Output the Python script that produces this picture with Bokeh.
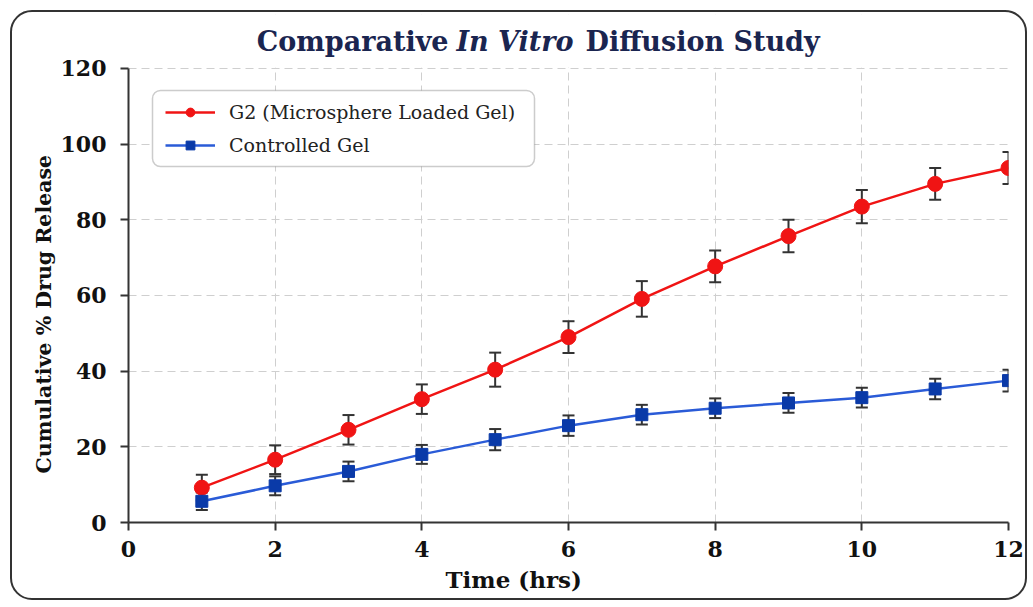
from bokeh.plotting import figure
from bokeh.models import (ColumnDataSource, Whisker, TeeHead, Legend, LegendItem,
                          BoxAnnotation, Label, FixedTicker, Range1d, Title)
from bokeh.embed import file_html
from bokeh.resources import INLINE

# ---- data ----
time_hrs = [1, 2, 3, 4, 5, 6, 7, 8, 9, 10, 11, 12]
g2_release = [9.2, 16.6, 24.5, 32.6, 40.4, 49.0, 59.1, 67.7, 75.7, 83.5, 89.5, 93.7]
g2_err = [3.4, 3.8, 3.9, 3.9, 4.5, 4.2, 4.7, 4.2, 4.3, 4.4, 4.2, 4.2]
ctrl_release = [5.6, 9.7, 13.5, 18.0, 21.9, 25.6, 28.5, 30.2, 31.6, 33.0, 35.3, 37.5]
ctrl_err = [2.3, 2.5, 2.6, 2.5, 2.8, 2.7, 2.6, 2.6, 2.6, 2.6, 2.7, 2.9]
x_ticks = [0, 2, 4, 6, 8, 10, 12]
y_ticks = [0, 20, 40, 60, 80, 100, 120]
series_names = ["G2 (Microsphere Loaded Gel)", "Controlled Gel"]
title_pieces = ["Comparative", "In Vitro", "Diffusion Study"]
x_label = "Time (hrs)"
y_label = "Cumulative % Drug Release"

FONT = "DejaVu Serif"
RED = "#f01414"
BLUE_LINE = "#2a5bd7"
BLUE_MARK = "#0a3aa8"
ERR = "#333333"
TCOL = "#1a2550"

Y_MAX = 120
Y_TOP = 134.27   # extra room above the data area for the title

p = figure(width=1017, height=590, output_backend="svg", toolbar_location=None,
           x_range=Range1d(0, 12), y_range=Range1d(0, Y_TOP),
           min_border_left=116, min_border_right=21, min_border_top=2,
           min_border_bottom=80)
p.margin = (10, 0, 0, 10)
p.styles = {"border": "2px solid #333333", "border-radius": "22px"}
p.outline_line_color = None
p.background_fill_alpha = 0
p.border_fill_alpha = 0

# grid
for g in (p.xgrid[0], p.ygrid[0]):
    g.grid_line_color = "#cfcfcf"
    g.grid_line_dash = "8 5"
    g.grid_line_width = 1

p.xaxis.ticker = FixedTicker(ticks=x_ticks)
p.yaxis.ticker = FixedTicker(ticks=y_ticks)
p.xgrid.ticker = FixedTicker(ticks=x_ticks)
p.ygrid.ticker = FixedTicker(ticks=y_ticks)
p.yaxis.bounds = (0, Y_MAX)

for ax in (p.xaxis[0], p.yaxis[0]):
    ax.axis_line_color = "#333333"
    ax.axis_line_width = 2
    ax.major_tick_line_color = "#333333"
    ax.major_tick_line_width = 2
    ax.major_tick_in = 0
    ax.major_tick_out = 8
    ax.minor_tick_line_color = None
    ax.major_label_text_font = FONT
    ax.major_label_text_font_style = "bold"
    ax.major_label_text_font_size = "22px"
    ax.major_label_text_color = "#111111"
p.yaxis.major_label_standoff = 14
p.xaxis.major_label_standoff = 10

# axis titles as side-panel titles (allow an offset along the axis)
p.add_layout(Title(text=x_label, align="left", offset=317, standoff=8,
                   text_font=FONT, text_font_style="bold", text_font_size="23px",
                   text_color="#111111"), "below")
p.add_layout(Title(text=y_label, align="left", offset=49, standoff=4,
                   text_font=FONT, text_font_style="bold", text_font_size="20.5px",
                   text_color="#111111"), "left")

# hide vertical grid lines above the data area (title zone)
p.add_layout(BoxAnnotation(left=-5, right=20, bottom=Y_MAX + 0.25, top=Y_TOP + 20,
                           fill_color="white", fill_alpha=1, line_alpha=0,
                           level="underlay"))

# legend box (rounded) drawn under the legend
p.add_layout(BoxAnnotation(left=138, right=520, top=76, bottom=152,
                           left_units="canvas", right_units="canvas",
                           top_units="canvas", bottom_units="canvas",
                           fill_color="white", fill_alpha=1,
                           line_color="#555555", line_width=1.5,
                           border_radius=8, level="underlay"))

src_g2 = ColumnDataSource(dict(t=time_hrs, y=g2_release,
                               lo=[v - e for v, e in zip(g2_release, g2_err)],
                               hi=[v + e for v, e in zip(g2_release, g2_err)]))
src_c = ColumnDataSource(dict(t=time_hrs, y=ctrl_release,
                              lo=[v - e for v, e in zip(ctrl_release, ctrl_err)],
                              hi=[v + e for v, e in zip(ctrl_release, ctrl_err)]))

for src in (src_g2, src_c):
    p.add_layout(Whisker(base="t", upper="hi", lower="lo", source=src,
                         line_color=ERR, line_width=2,
                         upper_head=TeeHead(size=12, line_color=ERR, line_width=2),
                         lower_head=TeeHead(size=12, line_color=ERR, line_width=2)))

l1 = p.line("t", "y", source=src_g2, line_color=RED, line_width=2.5)
m1 = p.scatter("t", "y", source=src_g2, marker="circle", size=15,
               fill_color=RED, line_color=RED)
l2 = p.line("t", "y", source=src_c, line_color=BLUE_LINE, line_width=2.5)
m2 = p.scatter("t", "y", source=src_c, marker="square", size=12,
               fill_color=BLUE_MARK, line_color=BLUE_MARK)

legend = Legend(items=[LegendItem(label=series_names[0], renderers=[l1, m1]),
                       LegendItem(label=series_names[1], renderers=[l2, m2])],
                location=(27, 356), margin=0, padding=10,
                glyph_width=50, glyph_height=22, label_height=22,
                spacing=11, label_standoff=14,
                label_text_font=FONT, label_text_font_size="19px",
                label_text_color="#222222",
                background_fill_alpha=0, border_line_alpha=0)
p.add_layout(legend)

# title composed from pieces (mixed bold / bold-italic), inside the frame
title_specs = [(title_pieces[0], "bold", 320, "right"),
               (title_pieces[1], "bold italic", 386.5, "center"),
               (title_pieces[2], "bold", 457, "left")]
for txt, style, xo, al in title_specs:
    p.add_layout(Label(x=xo, y=481, x_units="screen", y_units="screen", text=txt,
                       text_font=FONT, text_font_style=style,
                       text_font_size="27px", text_color=TCOL,
                       text_baseline="alphabetic", text_align=al))

open("out.html", "w").write(file_html(p, INLINE))
